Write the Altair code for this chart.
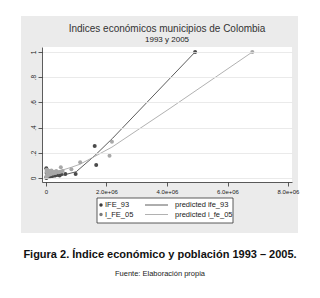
import altair as alt
import pandas as pd

# ---- data (x in millions of inhabitants, y = index) ----
ife93_x = [0.01, 0.02, 0.03, 0.05, 0.06, 0.08, 0.10, 0.12, 0.14, 0.16, 0.18, 0.20, 0.22, 0.25,
           0.28, 0.30, 0.33, 0.36, 0.40, 0.45, 0.50, 0.02, 0.04, 0.07, 0.09, 0.11, 0.15, 0.19,
           0.24, 0.31, 0.38, 0.64, 0.98, 1.66, 1.61, 4.93, 0.01, 0.03]
ife93_y = [0.000, 0.010, 0.005, 0.020, 0.010, 0.015, 0.020, 0.010, 0.025, 0.020, 0.030, 0.015,
           0.020, 0.030, 0.025, 0.020, 0.030, 0.025, 0.030, 0.020, 0.030, 0.040, 0.030, 0.050,
           0.040, 0.035, 0.045, 0.040, 0.035, 0.040, 0.030, 0.032, 0.032, 0.103, 0.254, 1.000,
           0.077, 0.060]

ife05_x = [0.01, 0.03, 0.05, 0.07, 0.10, 0.13, 0.16, 0.20, 0.24, 0.28, 0.32, 0.36, 0.42, 0.48,
           0.55, 0.02, 0.06, 0.12, 0.18, 0.26, 0.34, 0.49, 0.84, 1.13, 2.10, 2.18, 6.82, 0.02, 0.04]
ife05_y = [0.010, 0.020, 0.015, 0.030, 0.025, 0.035, 0.030, 0.040, 0.035, 0.045, 0.040, 0.050,
           0.045, 0.050, 0.055, 0.050, 0.060, 0.055, 0.060, 0.050, 0.055, 0.085, 0.070, 0.125,
           0.177, 0.288, 1.000, 0.065, 0.030]

pred93_x = [0.0, 0.3, 0.6, 1.0, 1.6, 2.2, 4.93]
pred93_y = [0.0, 0.01, 0.025, 0.05, 0.175, 0.315, 1.0]
pred05_x = [0.0, 0.5, 0.84, 1.13, 1.6, 2.18, 4.1, 6.82]
pred05_y = [0.03, 0.06, 0.085, 0.11, 0.17, 0.245, 0.553, 1.0]

series = ["IFE_93", "I_FE_05"]
x_ticks = [0, 2e6, 4e6, 6e6, 8e6]
y_ticks = [0, 0.2, 0.4, 0.6, 0.8, 1.0]

title = "Indices económicos municipios de Colombia"
subtitle = "1993 y 2005"
caption = "Figura 2. Índice económico y población 1993 – 2005."
source = "Fuente: Elaboración propia"

DARK = "#3c3c3c"
LIGHT = "#7a7a7a"
LDARK = "#4a4a4a"
LLIGHT = "#a8a8a8"
FONT = "Liberation Sans"

pts = pd.DataFrame({
    "pop": [v * 1e6 for v in ife93_x] + [v * 1e6 for v in ife05_x],
    "idx": ife93_y + ife05_y,
    "serie": [series[0]] * len(ife93_x) + [series[1]] * len(ife05_x),
})
pred = pd.DataFrame({
    "pop": [v * 1e6 for v in pred93_x] + [v * 1e6 for v in pred05_x],
    "idx": pred93_y + pred05_y,
    "serie": [series[0]] * len(pred93_x) + [series[1]] * len(pred05_x),
})

W, H = 250, 135
xs = alt.Scale(domain=[-0.132e6, 8.132e6], nice=False, zero=False)
ys = alt.Scale(domain=[-0.0317, 1.0397], nice=False, zero=False)

xaxis = alt.Axis(values=x_ticks, grid=False, title=None, zindex=1,
                 labelExpr="datum.value == 0 ? '0' : format(datum.value / 1e6, '.1f') + 'e+06'",
                 labelFontSize=6, labelColor="#222", labelFont=FONT, labelPadding=2,
                 tickSize=4, tickColor="#333", domainColor="#333", domainWidth=0.8, tickWidth=0.8)
yaxis = alt.Axis(values=y_ticks, grid=True, gridColor="#e4e4e4", gridWidth=0.8, title=None, zindex=1,
                 labelExpr="datum.value == 0 ? '0' : datum.value == 1 ? '1' : replace(format(datum.value, '.1f'), '0.', '.')",
                 labelAngle=270, labelAlign="center", labelBaseline="bottom",
                 labelFontSize=6.5, labelColor="#222", labelFont=FONT, labelPadding=2,
                 tickSize=4, tickColor="#333", domainColor="#333", domainWidth=0.8, tickWidth=0.8)

one = alt.Data(values=[{"a": 1}])

panel = alt.Chart(one).mark_rect(fill="#ebebeb").encode(
    x=alt.value(-21), x2=alt.value(256), y=alt.value(-31), y2=alt.value(186))
white = alt.Chart(one).mark_rect(fill="white").encode(
    x=alt.value(0), x2=alt.value(W), y=alt.value(0), y2=alt.value(H))

cscale_line = alt.Scale(domain=series, range=[LDARK, LLIGHT])
cscale_pt = alt.Scale(domain=series, range=[DARK, LIGHT])

lines = alt.Chart(pred).mark_line(strokeWidth=0.9).encode(
    x=alt.X("pop:Q", scale=xs, axis=xaxis),
    y=alt.Y("idx:Q", scale=ys, axis=yaxis),
    color=alt.Color("serie:N", scale=cscale_line, legend=None),
    detail="serie:N",
)
points = alt.Chart(pts).mark_circle(size=16, opacity=1).encode(
    x=alt.X("pop:Q", scale=xs, axis=xaxis),
    y=alt.Y("idx:Q", scale=ys, axis=yaxis),
    color=alt.Color("serie:N", scale=cscale_pt, legend=None),
)

def txt(s, x, y, size, weight="normal", align="center", color="#222"):
    return alt.Chart(one).mark_text(text=s, font=FONT, fontSize=size, fontWeight=weight,
                                    align=align, baseline="middle", color=color).encode(
        x=alt.value(x), y=alt.value(y))

t1 = txt(title, 125, -18, 10, color="#333")
t2 = txt(subtitle, 125, -7, 8)
cap = txt(caption, 118, 208, 11, weight="bold", color="#111")
src = txt(source, 118, 227, 7.5)

lbox = alt.Chart(one).mark_rect(fill="white", stroke="#333", strokeWidth=0.8).encode(
    x=alt.value(55), x2=alt.value(191), y=alt.value(151), y2=alt.value(176))
lp1 = alt.Chart(one).mark_circle(size=12, opacity=1, color=DARK).encode(x=alt.value(59), y=alt.value(158))
lp2 = alt.Chart(one).mark_circle(size=12, opacity=1, color=LIGHT).encode(x=alt.value(59), y=alt.value(167.5))
ll1 = alt.Chart(one).mark_rule(color=LDARK, strokeWidth=0.9).encode(x=alt.value(103), x2=alt.value(126), y=alt.value(158))
ll2 = alt.Chart(one).mark_rule(color=LLIGHT, strokeWidth=0.9).encode(x=alt.value(103), x2=alt.value(126), y=alt.value(167.5))
lt1 = txt(series[0], 63, 158, 7.5, align="left")
lt2 = txt(series[1], 63, 167.5, 7.5, align="left")
lt3 = txt("predicted ife_93", 133, 158, 7.5, align="left")
lt4 = txt("predicted i_fe_05", 133, 167.5, 7.5, align="left")

chart = alt.layer(
    panel, white, lines, points, t1, t2, cap, src,
    lbox, lp1, lp2, ll1, ll2, lt1, lt2, lt3, lt4,
).properties(
    width=W, height=H,
    autosize=alt.AutoSizeParams(type="none"),
    padding={"left": 34, "top": 39, "right": 20, "bottom": 100},
    background="white",
).configure_view(stroke=None)

chart.save("out.html", embed_options={"renderer": "svg", "actions": False})
